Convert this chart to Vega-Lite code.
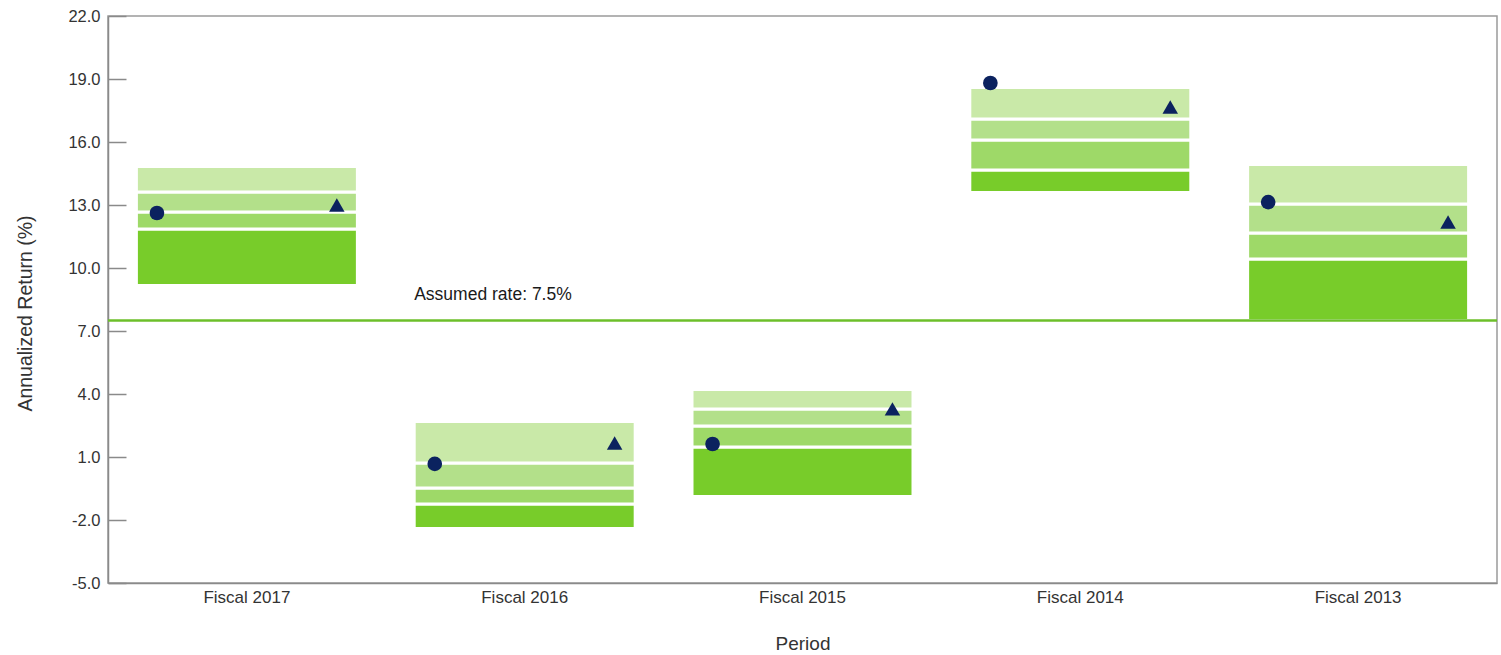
{
  "$schema": "https://vega.github.io/schema/vega-lite/v6.json",
  "width": 1389,
  "height": 567,
  "autosize": {"type": "none"},
  "padding": {"left": 108, "top": 16, "right": 4, "bottom": 72},
  "background": "white",
  "config": {
    "font": "Liberation Sans",
    "view": {"stroke": "#9a9a9a", "strokeWidth": 1.5},
    "axis": {"grid": false, "domainColor": "#8a8a8a", "domainWidth": 1.5, "labelColor": "#333333", "titleColor": "#333333", "labelFont": "Liberation Sans", "titleFont": "Liberation Sans", "titleFontWeight": "normal"}
  },
  "datasets": {
    "bands": [
      {"period": "Fiscal 2017", "band": "5th-25th", "lo": 9.17, "hi": 11.86},
      {"period": "Fiscal 2017", "band": "25th-50th", "lo": 11.86, "hi": 12.67},
      {"period": "Fiscal 2017", "band": "50th-75th", "lo": 12.67, "hi": 13.62},
      {"period": "Fiscal 2017", "band": "75th-95th", "lo": 13.62, "hi": 14.83},
      {"period": "Fiscal 2016", "band": "5th-25th", "lo": -2.40, "hi": -1.24},
      {"period": "Fiscal 2016", "band": "25th-50th", "lo": -1.24, "hi": -0.48},
      {"period": "Fiscal 2016", "band": "50th-75th", "lo": -0.48, "hi": 0.71},
      {"period": "Fiscal 2016", "band": "75th-95th", "lo": 0.71, "hi": 2.69},
      {"period": "Fiscal 2015", "band": "5th-25th", "lo": -0.88, "hi": 1.48},
      {"period": "Fiscal 2015", "band": "25th-50th", "lo": 1.48, "hi": 2.48},
      {"period": "Fiscal 2015", "band": "50th-75th", "lo": 2.48, "hi": 3.29},
      {"period": "Fiscal 2015", "band": "75th-95th", "lo": 3.29, "hi": 4.21},
      {"period": "Fiscal 2014", "band": "5th-25th", "lo": 13.60, "hi": 14.67},
      {"period": "Fiscal 2014", "band": "25th-50th", "lo": 14.67, "hi": 16.10},
      {"period": "Fiscal 2014", "band": "50th-75th", "lo": 16.10, "hi": 17.10},
      {"period": "Fiscal 2014", "band": "75th-95th", "lo": 17.10, "hi": 18.59},
      {"period": "Fiscal 2013", "band": "5th-25th", "lo": 7.50, "hi": 10.43},
      {"period": "Fiscal 2013", "band": "25th-50th", "lo": 10.43, "hi": 11.67},
      {"period": "Fiscal 2013", "band": "50th-75th", "lo": 11.67, "hi": 13.05},
      {"period": "Fiscal 2013", "band": "75th-95th", "lo": 13.05, "hi": 14.93}
    ],
    "markers": [
      {"period": "Fiscal 2017", "series": "Fund", "value": 12.62},
      {"period": "Fiscal 2017", "series": "Benchmark", "value": 13.0},
      {"period": "Fiscal 2016", "series": "Fund", "value": 0.67},
      {"period": "Fiscal 2016", "series": "Benchmark", "value": 1.67},
      {"period": "Fiscal 2015", "series": "Fund", "value": 1.62},
      {"period": "Fiscal 2015", "series": "Benchmark", "value": 3.29},
      {"period": "Fiscal 2014", "series": "Fund", "value": 18.81},
      {"period": "Fiscal 2014", "series": "Benchmark", "value": 17.67},
      {"period": "Fiscal 2013", "series": "Fund", "value": 13.14},
      {"period": "Fiscal 2013", "series": "Benchmark", "value": 12.19}
    ],
    "rate": [{"period": "Fiscal 2016", "rate": 7.5, "label": "Assumed rate: 7.5%"}]
  },
  "encoding": {
    "x": {
      "field": "period",
      "type": "nominal",
      "sort": ["Fiscal 2017", "Fiscal 2016", "Fiscal 2015", "Fiscal 2014", "Fiscal 2013"],
      "scale": {"domain": ["Fiscal 2017", "Fiscal 2016", "Fiscal 2015", "Fiscal 2014", "Fiscal 2013"], "paddingInner": 0.2045, "paddingOuter": 0.1022},
      "axis": {"title": "Period", "labelAngle": 0, "labelFontSize": 17, "titleFontSize": 19, "ticks": false, "labelPadding": 6, "titlePadding": 29}
    }
  },
  "layer": [
    {
      "data": {"name": "bands"},
      "mark": {"type": "bar", "stroke": "white", "strokeWidth": 3, "opacity": 1},
      "encoding": {
        "y": {
          "field": "lo",
          "type": "quantitative",
          "scale": {"domain": [-5, 22], "nice": false, "zero": false},
          "axis": {
            "title": "Annualized Return (%)",
            "values": [-5, -2, 1, 4, 7, 10, 13, 16, 19, 22],
            "labelExpr": "replace(format(datum.value, '.1f'), '\u2212', '-')",
            "tickSize": -18,
            "tickColor": "#8a8a8a",
            "tickWidth": 1.5,
            "labelPadding": 26,
            "labelFontSize": 16.5,
            "titleFontSize": 19.5,
            "titleX": -83,
            "titleY": 297,
            "titleAngle": -90,
            "titleAlign": "center",
            "titleBaseline": "middle"
          }
        },
        "y2": {"field": "hi"},
        "color": {
          "field": "band",
          "type": "nominal",
          "scale": {"domain": ["5th-25th", "25th-50th", "50th-75th", "75th-95th"], "range": ["#78cc2a", "#9ed968", "#b3e08a", "#c9e9a8"]},
          "legend": null
        }
      }
    },
    {
      "data": {"name": "rate"},
      "mark": {"type": "rule", "color": "#6cbf2a", "strokeWidth": 2.5},
      "encoding": {
        "x": null,
        "y": {"field": "rate", "type": "quantitative"}
      }
    },
    {
      "data": {"name": "rate"},
      "mark": {"type": "text", "align": "left", "baseline": "middle", "dy": -26, "fontSize": 17.5, "color": "#1a1a1a", "font": "Liberation Sans"},
      "encoding": {
        "x": {"field": "period", "type": "nominal", "bandPosition": 0},
        "y": {"field": "rate", "type": "quantitative"},
        "text": {"field": "label"}
      }
    },
    {
      "data": {"name": "markers"},
      "transform": [{"filter": "datum.series === 'Fund'"}],
      "mark": {"type": "point", "shape": "circle", "filled": true, "opacity": 1, "size": 215, "color": "#0b225f"},
      "encoding": {
        "x": {"field": "period", "type": "nominal", "bandPosition": 0.093},
        "y": {"field": "value", "type": "quantitative"}
      }
    },
    {
      "data": {"name": "markers"},
      "transform": [{"filter": "datum.series === 'Benchmark'"}],
      "mark": {"type": "point", "shape": "triangle-up", "filled": true, "opacity": 1, "size": 240, "color": "#0b225f"},
      "encoding": {
        "x": {"field": "period", "type": "nominal", "bandPosition": 0.907},
        "y": {"field": "value", "type": "quantitative"}
      }
    }
  ]
}
